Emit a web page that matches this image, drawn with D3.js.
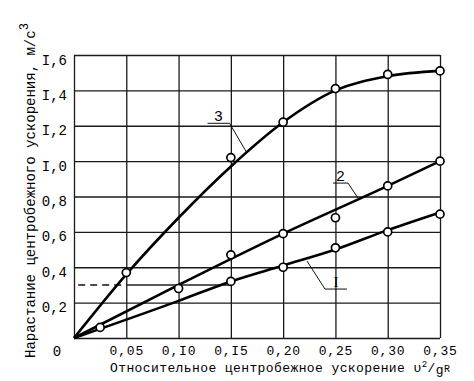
<!DOCTYPE html>
<html>
<head>
<meta charset="utf-8">
<script src="https://cdn.jsdelivr.net/npm/d3@7"></script>
<style>
  html, body { margin: 0; padding: 0; background: #fff; }
  svg { display: block; }
</style>
</head>
<body>
<div id="chart"></div>
<script>
// Шкалы
const xTicks = [0, 0.05, 0.10, 0.15, 0.20, 0.25, 0.30, 0.35];
const xTickLabels = ['', '0,05', '0,I0', '0,I5', '0,20', '0,25', '0,30', '0,35'];
const yTicks = [0, 0.2, 0.4, 0.6, 0.8, 1.0, 1.2, 1.4, 1.6];
const yTickLabels = ['', '0,2', '0,4', '0,6', '0,8', 'I,0', 'I,2', 'I,4', 'I,6'];

// Кривая 3 (сглаженная линия и точки опыта)
const line3X = [0, 0.05, 0.10, 0.15, 0.20, 0.25, 0.30, 0.35];
const line3Y = [0, 0.36, 0.68, 0.97, 1.22, 1.40, 1.48, 1.51];
const pts3X = [0.05, 0.15, 0.20, 0.25, 0.30, 0.35];
const pts3Y = [0.37, 1.02, 1.22, 1.41, 1.49, 1.51];

// Кривая 2
const line2X = [0, 0.10, 0.20, 0.30, 0.35];
const line2Y = [0, 0.30, 0.59, 0.86, 1.00];
const pts2X = [0.10, 0.15, 0.20, 0.25, 0.30, 0.35];
const pts2Y = [0.28, 0.47, 0.59, 0.68, 0.86, 1.00];

// Кривая I
const line1X = [0, 0.10, 0.15, 0.20, 0.25, 0.30, 0.35];
const line1Y = [0, 0.21, 0.32, 0.41, 0.50, 0.61, 0.71];
const pts1X = [0.025, 0.15, 0.20, 0.25, 0.30, 0.35];
const pts1Y = [0.06, 0.32, 0.40, 0.51, 0.60, 0.70];

// Штриховой уровень
const refLevel = 0.30;
const refFrom = 0.004;
const refMid = 0.05;
const refTo = 0.15;

// Подписи кривых: точка на кривой
const curveNames = ['3', '2', 'I'];
const curveTipX = [0.165, 0.2716, 0.2228];
const curveTipY = [1.05, 0.791, 0.435];

const width = 474, height = 381;
const margin = { left: 74, top: 55, right: 34, bottom: 43 };
const w = width - margin.left - margin.right;
const h = height - margin.top - margin.bottom;
const mono = '"Liberation Mono", "DejaVu Sans Mono", monospace';

const svg = d3.select('#chart').append('svg')
  .attr('width', width)
  .attr('height', height);

const g = svg.append('g').attr('transform', `translate(${margin.left},${margin.top})`);

const x = d3.scaleLinear().domain([0, 0.35]).range([0, w]);
const y = d3.scaleLinear().domain([0, 1.6]).range([h, 0]);

// Сетка + подписи оси X
const ax = g.append('g').attr('transform', `translate(0,${h})`)
  .call(d3.axisBottom(x).tickValues(xTicks).tickFormat((d, i) => xTickLabels[i]).tickSize(-h).tickPadding(8));
ax.select('.domain').remove();
ax.selectAll('line').attr('stroke', '#1a1a1a').attr('stroke-width', 1.3);
ax.selectAll('text').attr('font-family', mono).attr('font-size', 13).attr('letter-spacing', 0.8).attr('fill', '#000');

// Сетка + подписи оси Y
const ay = g.append('g')
  .call(d3.axisLeft(y).tickValues(yTicks).tickFormat((d, i) => yTickLabels[i]).tickSize(-w).tickPadding(7));
ay.select('.domain').remove();
ay.selectAll('line').attr('stroke', '#1a1a1a').attr('stroke-width', 1.3);
ay.selectAll('text').attr('font-family', mono).attr('font-size', 14).attr('dy', '0.65em').attr('fill', '#000');

// "0" в начале координат
g.append('text')
  .attr('x', x(0) - 17).attr('y', y(0) + 18)
  .attr('text-anchor', 'middle')
  .attr('font-family', mono).attr('font-size', 14)
  .text('0');

// Штриховая линия
g.append('line')
  .attr('x1', x(refFrom)).attr('x2', x(refMid))
  .attr('y1', y(refLevel)).attr('y2', y(refLevel))
  .attr('stroke', '#111').attr('stroke-width', 1.6).attr('stroke-dasharray', '7,5');
g.append('line')
  .attr('x1', x(refMid)).attr('x2', x(refTo))
  .attr('y1', y(refLevel)).attr('y2', y(refLevel))
  .attr('stroke', '#222').attr('stroke-width', 1.6);

// Кривые
const linia = d3.line().x(d => x(d[0])).y(d => y(d[1])).curve(d3.curveMonotoneX);
const curvas = [
  { lx: line3X, ly: line3Y, px: pts3X, py: pts3Y },
  { lx: line2X, ly: line2Y, px: pts2X, py: pts2Y },
  { lx: line1X, ly: line1Y, px: pts1X, py: pts1Y }
];

curvas.forEach(c => {
  g.append('path')
    .datum(c.lx.map((v, i) => [v, c.ly[i]]))
    .attr('d', linia)
    .attr('fill', 'none')
    .attr('stroke', '#000')
    .attr('stroke-width', 2.6)
    .attr('stroke-linejoin', 'round');
});

curvas.forEach(c => {
  g.append('g').selectAll('circle')
    .data(c.px.map((v, i) => [v, c.py[i]]))
    .enter().append('circle')
    .attr('cx', d => x(d[0]))
    .attr('cy', d => y(d[1]))
    .attr('r', 4)
    .attr('fill', '#fff')
    .attr('stroke', '#000')
    .attr('stroke-width', 1.7);
});

// Выноски с номерами кривых (смещения в пикселях от точки на кривой)
const vynoski = [
  { dx: -17, dy: -29, shelf: -22, font: '"Liberation Sans", Arial, sans-serif' },
  { dx: -10, dy: -15, shelf: -15, font: '"Liberation Sans", Arial, sans-serif' },
  { dx: 18, dy: 28, shelf: 22, font: '"Liberation Serif", "DejaVu Serif", serif' }
];

curveNames.forEach((name, i) => {
  const v = vynoski[i];
  const tx = x(curveTipX[i]), ty = y(curveTipY[i]);
  const ex = tx + v.dx, ey = ty + v.dy;
  g.append('path')
    .attr('d', `M${tx},${ty}L${ex},${ey}L${ex + v.shelf},${ey}`)
    .attr('fill', 'none')
    .attr('stroke', '#111')
    .attr('stroke-width', 1);
  g.append('text')
    .attr('x', ex + v.shelf / 2).attr('y', ey - 2)
    .attr('text-anchor', 'middle')
    .attr('font-family', v.font)
    .attr('font-size', 15)
    .text(name);
});

// Подпись оси X
const xt = svg.append('text')
  .attr('x', 110).attr('y', 372)
  .attr('font-family', mono).attr('font-size', 13)
  .attr('letter-spacing', 0.4)
  .attr('fill', '#000');
xt.append('tspan').text('Относительное центробежное ускорение υ');
xt.append('tspan').attr('font-size', 9).attr('dy', -5).text('2');
xt.append('tspan').attr('dy', 5).text('/');
xt.append('tspan').attr('dy', 2).text('g');
xt.append('tspan').attr('dy', -2).attr('font-size', 10).text('R');

// Подпись оси Y
const yt = svg.append('text')
  .attr('transform', 'translate(35,358) rotate(-90)')
  .attr('font-family', mono).attr('font-size', 14)
  .attr('fill', '#000');
yt.append('tspan').text('Нарастание центробежного ускорения, м/с');
yt.append('tspan').attr('font-size', 12).attr('dy', -7).text('3');
</script>
</body>
</html>
